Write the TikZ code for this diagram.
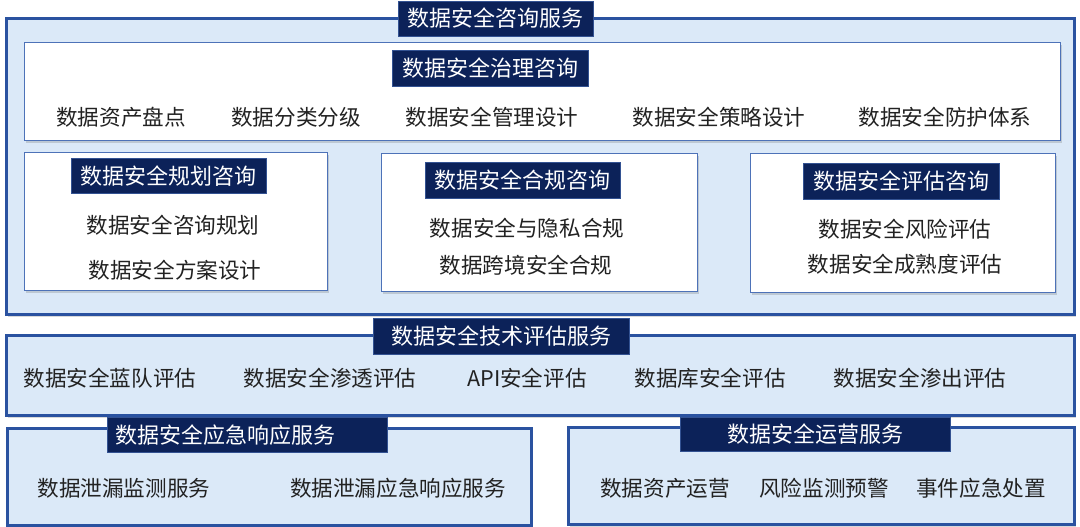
\documentclass[tikz,border=0pt]{standalone}
\usepackage{fontspec}
\setmainfont{Noto Sans CJK SC}
\usetikzlibrary{shadows}
\definecolor{navy}{HTML}{0C2259}
\definecolor{bordblue}{HTML}{2A52A0}
\definecolor{innerblue}{HTML}{4D72B8}
\definecolor{paleblue}{HTML}{DBE9F8}
\definecolor{txt}{HTML}{222222}
\tikzset{
  outerbox/.style={draw=bordblue, line width=3pt, fill=paleblue, inner sep=0pt, anchor=north west,
    drop shadow={shadow xshift=1pt, shadow yshift=-2.5pt, opacity=0.25, fill=black!60}},
  innerbox/.style={draw=innerblue, line width=1.2pt, fill=white, inner sep=0pt, anchor=north west,
    drop shadow={shadow xshift=1pt, shadow yshift=-2.5pt, opacity=0.25, fill=black!60}},
  titlebox/.style={fill=navy, draw=innerblue!60!navy, line width=0.6pt, text=white, inner sep=0pt,
    font=\fontsize{22pt}{26pt}\selectfont},
  item/.style={text=txt, inner sep=0pt, font=\fontsize{21.6pt}{26pt}\selectfont}
}
\begin{document}
\begin{tikzpicture}[x=1pt,y=-1pt]
\useasboundingbox[fill=white] (0,0) rectangle (1080,527);

% ---------- boxes ----------
\node[outerbox, minimum width=1068pt, minimum height=296pt] (consult) at (5,17) {};
\node[innerbox, minimum width=1036pt, minimum height=98pt] (gov) at (24,42) {};
\node[innerbox, minimum width=303pt, minimum height=138pt] (plan) at (24,152) {};
\node[innerbox, minimum width=316pt, minimum height=138pt] (comp) at (381,153) {};
\node[innerbox, minimum width=305pt, minimum height=139pt] (assess) at (750,153) {};
\node[outerbox, minimum width=1068pt, minimum height=80pt] (tech) at (5,334) {};
\node[outerbox, minimum width=524pt, minimum height=97pt] (er) at (6,427) {};
\node[outerbox, minimum width=506pt, minimum height=97pt] (ops) at (567,426) {};

% ---------- titles ----------
\node[titlebox, minimum width=195pt, minimum height=35pt] (t1) at (495.5,18.5) {数据安全咨询服务};
\node[titlebox, minimum width=196pt, minimum height=36pt] (t2) at (490,68) {数据安全治理咨询};
\node[titlebox, minimum width=195pt, minimum height=35pt] (t3) at (168.5,176) {数据安全规划咨询};
\node[titlebox, minimum width=195pt, minimum height=36pt] (t4) at (522.5,180.5) {数据安全合规咨询};
\node[titlebox, minimum width=196pt, minimum height=36pt] (t5) at (901,181) {数据安全评估咨询};
\node[titlebox, minimum width=256pt, minimum height=36pt] (t6) at (501,336) {数据安全技术评估服务};
\node[titlebox, text width=264pt, align=left, inner xsep=8pt, minimum height=35pt, anchor=north west] (t7) at (107,417) {数据安全应急响应服务};
\node[titlebox, minimum width=270pt, minimum height=34pt] (t8) at (815,434) {数据安全运营服务};

% ---------- items ----------
\node[item] (g1) at (121,117) {数据资产盘点};
\node[item] (g2) at (296,117) {数据分类分级};
\node[item] (g3) at (492,117) {数据安全管理设计};
\node[item] (g4) at (719,117) {数据安全策略设计};
\node[item] (g5) at (945,117) {数据安全防护体系};

\node[item] (p1) at (173,225) {数据安全咨询规划};
\node[item] (p2) at (175,270) {数据安全方案设计};

\node[item] (c1) at (527,228) {数据安全与隐私合规};
\node[item] (c2) at (526,265) {数据跨境安全合规};

\node[item] (a1) at (905,229) {数据安全风险评估};
\node[item] (a2) at (905,264) {数据安全成熟度评估};

\node[item] (e1) at (110,378) {数据安全蓝队评估};
\node[item] (e2) at (330,378) {数据安全渗透评估};
\node[item] (e3) at (527,378) {API安全评估};
\node[item] (e4) at (710,378) {数据库安全评估};
\node[item] (e5) at (920,378) {数据安全渗出评估};

\node[item] (r1) at (124,488) {数据泄漏监测服务};
\node[item] (r2) at (398,488) {数据泄漏应急响应服务};

\node[item] (o1) at (665,488) {数据资产运营};
\node[item] (o2) at (824,488) {风险监测预警};
\node[item] (o3) at (981,488) {事件应急处置};
\end{tikzpicture}
\end{document}
